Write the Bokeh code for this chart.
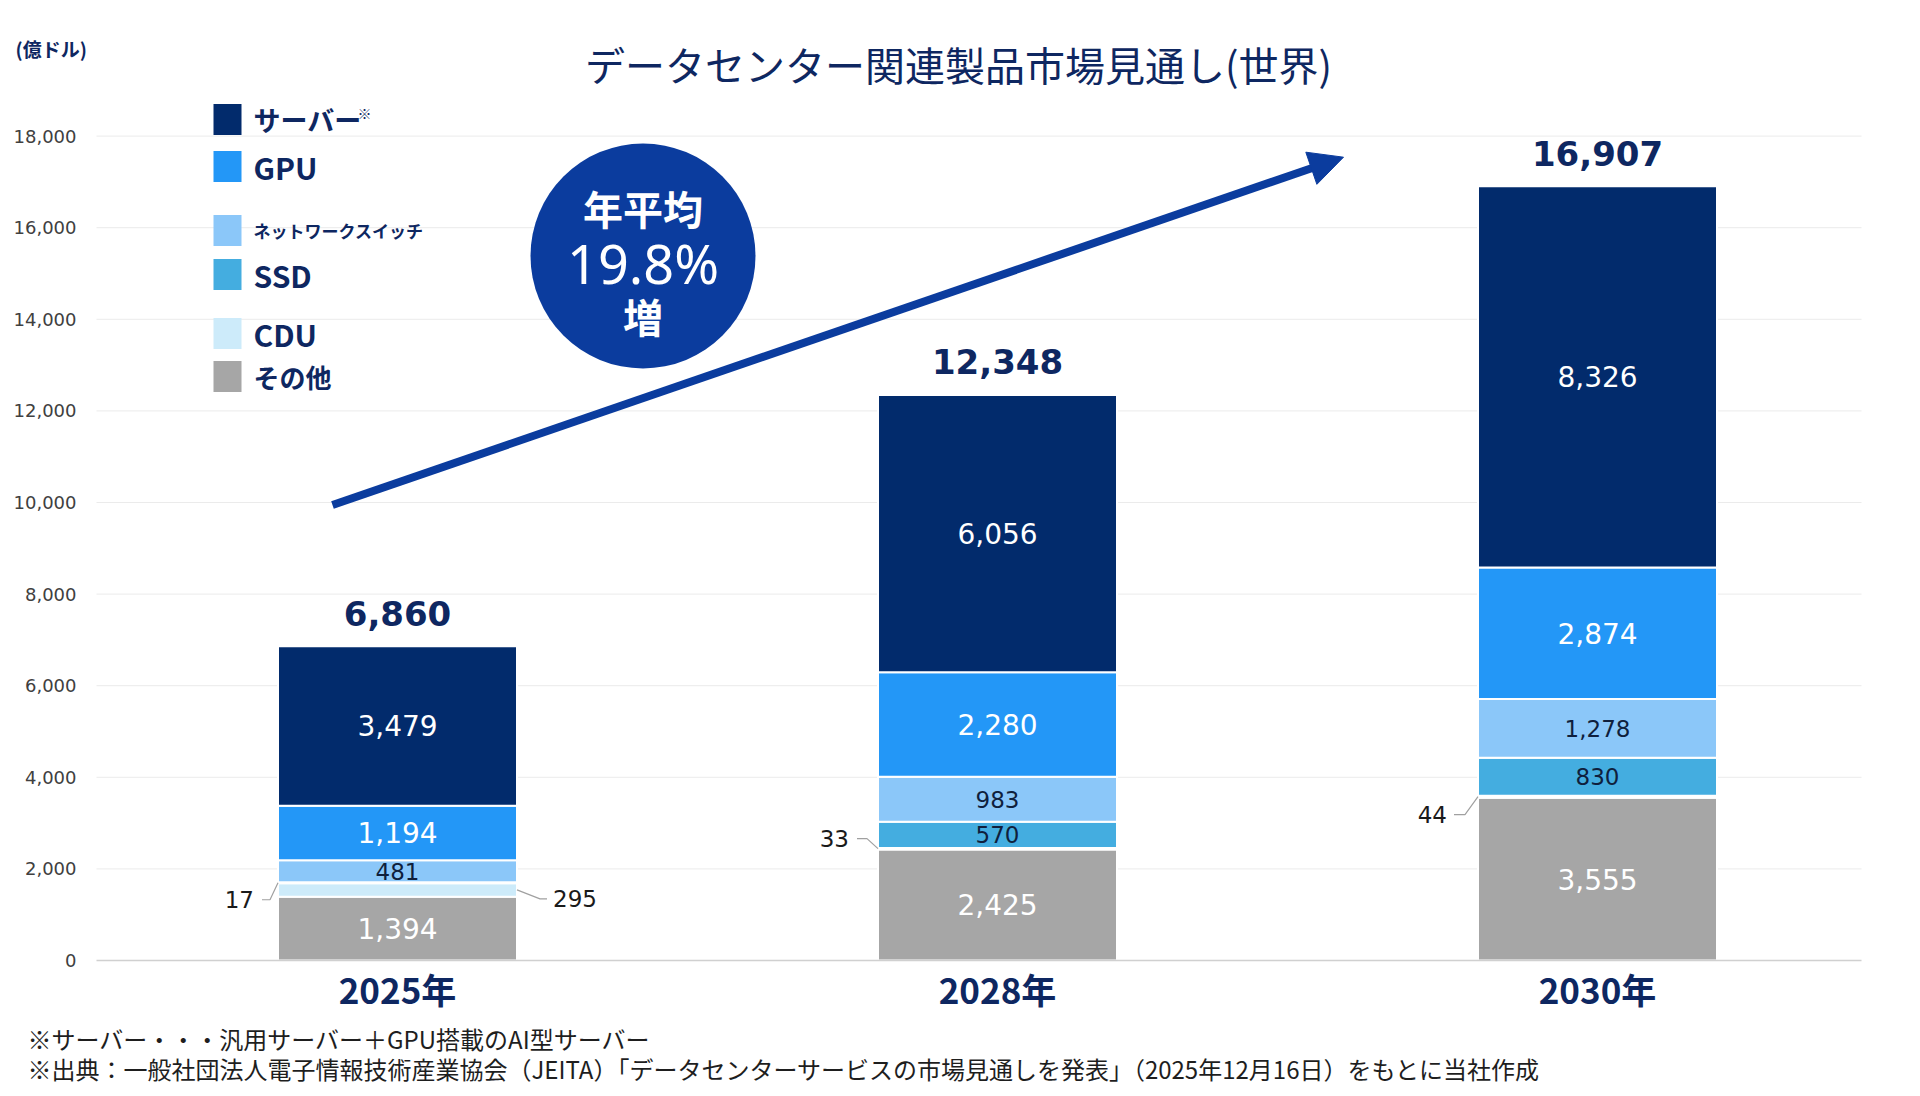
import numpy as np
from bokeh.plotting import figure
from bokeh.models import (Range1d, FixedTicker, ColumnDataSource, Label, Arrow,
                          NormalHead, NumeralTickFormatter)
from bokeh.core.properties import value
from bokeh.embed import file_html
from bokeh.resources import INLINE

# ---------------- data ----------------
years = ["2025年", "2028年", "2030年"]
series = ["その他", "CDU", "SSD", "ネットワークスイッチ", "GPU", "サーバー"]  # stacked bottom -> top
other = [1394, 2425, 3555]
cdu = [295, 33, 44]
ssd = [17, 570, 830]
switch = [481, 983, 1278]
gpu = [1194, 2280, 2874]
server = [3479, 6056, 8326]
totals = [6860, 12348, 16907]
y_ticks = [0, 2000, 4000, 6000, 8000, 10000, 12000, 14000, 16000, 18000]
legend_order = ["サーバー", "GPU", "ネットワークスイッチ", "SSD", "CDU", "その他"]
title_text = "データセンター関連製品市場見通し(世界)"
unit_text = "(億ドル)"
cagr_lines = ["年平均", "19.8%", "増"]
notes = ["※サーバー・・・汎用サーバー＋GPU搭載のAI型サーバー",
         "※出典：一般社団法人電子情報技術産業協会（JEITA）「データセンターサービスの市場見通しを発表」（2025年12月16日）をもとに当社作成"]

values = [other, cdu, ssd, switch, gpu, server]

# ---------------- style / layout ----------------
W, H = 1920, 1096
GL, GR, BASE = 96, 1861, 960         # grid left / right px, baseline (0) px
PX_X = 600.0                         # px per category step
X0_PX = 397.0                        # px of first category center
PX_Y = 0.0458                        # px per unit (億ドル)
xs = -X0_PX / PX_X
xe = (W - X0_PX) / PX_X
ys = -(H - BASE) / PX_Y
ye = BASE / PX_Y
BAR_W = 239 / PX_X

def px_x(px):
    return xs + px / PX_X

def px_y(py):
    return (BASE - py) / PX_Y

NAVY = "#0E2761"
BLUE = "#0B3C9E"
colors = {"サーバー": "#022B6C", "GPU": "#2397F7", "ネットワークスイッチ": "#8BC7F9",
          "SSD": "#44ADE0", "CDU": "#CDEBFA", "その他": "#A6A6A6"}
label_color = {"サーバー": "white", "GPU": "white", "その他": "white",
               "ネットワークスイッチ": "#0F1F3D", "SSD": "#0F1F3D", "CDU": "#0F1F3D"}
label_size = {"サーバー": "28px", "GPU": "28px", "その他": "28px",
              "ネットワークスイッチ": "23px", "SSD": "23px", "CDU": "23px"}
NUM_FONT = "DejaVu Sans"
JP_FONT = "Noto Sans CJK JP"
OUTSIDE_LIMIT = 300
# outside label leader styles: (series, year index) -> (side, elbow dx, dy, end dx, text dx) in px
leader_style = {("SSD", 0): (-1, 8, 17, 16, 24),
                ("CDU", 0): (1, 23, 9, 30, 36),
                ("CDU", 1): (-1, 11, -10, 21, 29),
                ("CDU", 2): (-1, 13, 18, 24, 31)}

p = figure(width=W, height=H, output_backend="svg", toolbar_location=None,
           x_range=Range1d(xs, xe), y_range=Range1d(ys, ye), min_border=0)
p.outline_line_color = None
p.background_fill_color = "white"
p.border_fill_color = "white"

# axes (fixed inside the frame)
p.yaxis.fixed_location = px_x(GL)
p.yaxis.ticker = FixedTicker(ticks=y_ticks)
p.yaxis.formatter = NumeralTickFormatter(format="0,0")
p.yaxis.axis_line_color = None
p.yaxis.major_tick_line_color = None
p.yaxis.minor_tick_line_color = None
p.yaxis.major_tick_out = 0
p.yaxis.major_tick_in = 0
p.yaxis.major_label_standoff = 20
p.yaxis.major_label_text_font = NUM_FONT
p.yaxis.major_label_text_font_size = "18px"
p.yaxis.major_label_text_color = "#404040"
p.grid.visible = False

p.xaxis.fixed_location = 0
p.xaxis.bounds = (px_x(GL), px_x(GR))
p.xaxis.ticker = FixedTicker(ticks=list(range(len(years))))
p.xaxis.major_label_overrides = {i: y for i, y in enumerate(years)}
p.xaxis.axis_line_color = "#D0D0D0"
p.xaxis.axis_line_width = 1.5
p.xaxis.major_tick_line_color = None
p.xaxis.minor_tick_line_color = None
p.xaxis.major_tick_out = 0
p.xaxis.major_tick_in = 0
p.xaxis.major_label_standoff = 2
p.xaxis.major_label_text_font = JP_FONT
p.xaxis.major_label_text_font_style = "bold"
p.xaxis.major_label_text_font_size = "35px"
p.xaxis.major_label_text_color = NAVY

# horizontal gridlines at the y ticks
grid_ticks = [t for t in y_ticks if t > 0]
p.segment(x0=[px_x(GL)] * len(grid_ticks), x1=[px_x(GR)] * len(grid_ticks),
          y0=grid_ticks, y1=grid_ticks, line_color="#EBEBEB", line_width=1, level="underlay")

# stacked bars
xi = np.arange(len(years))
arr = np.array(values, dtype=float)
tops = np.cumsum(arr, axis=0)
bottoms = tops - arr
seg = dict(x=[], bottom=[], top=[], color=[])
ins = dict(x=[], y=[], text=[], color=[], size=[])
lead_xs, lead_ys = [], []
out_lbl = dict(x=[], y=[], text=[], align=[])
for s, name in enumerate(series):
    for i in range(len(years)):
        seg["x"].append(xi[i]); seg["bottom"].append(bottoms[s, i]); seg["top"].append(tops[s, i])
        seg["color"].append(colors[name])
        mid = (bottoms[s, i] + tops[s, i]) / 2
        txt = f"{values[s][i]:,}"
        if values[s][i] >= OUTSIDE_LIMIT:
            ins["x"].append(xi[i]); ins["y"].append(mid); ins["text"].append(txt)
            ins["color"].append(label_color[name]); ins["size"].append(label_size[name])
        else:
            side, edx, dy, endx, tdx = leader_style[(name, i)]
            edge = xi[i] + side * BAR_W / 2
            ly = mid - dy / PX_Y
            lead_xs.append([edge, edge + side * edx / PX_X, edge + side * endx / PX_X])
            lead_ys.append([mid, ly, ly])
            out_lbl["x"].append(edge + side * tdx / PX_X); out_lbl["y"].append(ly)
            out_lbl["text"].append(txt); out_lbl["align"].append("right" if side < 0 else "left")

p.vbar(x="x", bottom="bottom", top="top", width=BAR_W, fill_color="color",
       line_color="white", line_width=2, source=ColumnDataSource(seg))
p.text(x="x", y="y", text="text", text_color="color", text_font_size="size",
       text_font=value(NUM_FONT), text_align="center", text_baseline="middle",
       source=ColumnDataSource(ins))
p.multi_line(xs=lead_xs, ys=lead_ys, line_color="#A0A0A0", line_width=1.2)
p.text(x="x", y="y", text="text", text_align="align", text_baseline="middle",
       text_font=value(NUM_FONT), text_font_size="23px", text_color="#1A1A1A",
       source=ColumnDataSource(out_lbl))

# totals
p.text(x=xi, y=totals, text=[f"{t:,}" for t in totals], y_offset=-33,
       text_align="center", text_baseline="alphabetic", text_font=value(NUM_FONT),
       text_font_style="bold", text_font_size="34px", text_color=NAVY)

# growth arrow (shaft + head)
tail = (332, 504.5)
tip = (1343, 156.7)
d = np.array([tip[0] - tail[0], tip[1] - tail[1]])
u = d / np.linalg.norm(d)
shaft_end = (tip[0] - 20 * u[0], tip[1] - 20 * u[1])
p.line(x=[px_x(tail[0]), px_x(shaft_end[0])], y=[px_y(tail[1]), px_y(shaft_end[1])],
       line_color=BLUE, line_width=8, line_cap="butt")
p.add_layout(Arrow(x_start=px_x(shaft_end[0]), y_start=px_y(shaft_end[1]),
                   x_end=px_x(tip[0]), y_end=px_y(tip[1]), line_alpha=0, line_width=0,
                   end=NormalHead(size=34, fill_color=BLUE, line_color=BLUE)))

# CAGR circle
p.scatter(x=[px_x(642.5)], y=[px_y(255.5)], size=225, marker="circle",
          fill_color=BLUE, line_color=None)
for txt, py, fs, fnt in zip(cagr_lines, [207.5, 262.5, 315], ["40px", "54px", "40px"],
                            [JP_FONT, "Noto Sans", JP_FONT]):
    p.add_layout(Label(x=px_x(642.5), y=px_y(py), text=txt, text_align="center",
                       text_baseline="middle", text_font=fnt, text_font_size=fs,
                       text_color="white", text_font_style="bold" if fnt == JP_FONT else "normal"))

# legend (manual, non-uniform spacing as in the reference)
leg_y = [119, 166, 230, 274, 333, 376]
leg_fs = ["27px", "30px", "17px", "30px", "30px", "26px"]
p.rect(x=[px_x(227)] * len(legend_order), y=[px_y(v) for v in leg_y], width=28, height=31,
       width_units="screen", height_units="screen",
       fill_color=[colors[n] for n in legend_order], line_color=None)
for name, ly, fs in zip(legend_order, leg_y, leg_fs):
    p.add_layout(Label(x=px_x(253), y=px_y(ly), text=name, text_align="left",
                       text_baseline="middle", text_font=JP_FONT, text_font_style="bold",
                       text_font_size=fs, text_color=NAVY))
p.add_layout(Label(x=px_x(357), y=px_y(112), text="※", text_align="left",
                   text_baseline="middle", text_font=JP_FONT, text_font_size="14px",
                   text_color=NAVY))

# title, unit, notes
p.add_layout(Label(x=px_x(958), y=px_y(63.5), text=title_text, text_align="center",
                   text_baseline="middle", text_font=JP_FONT, text_font_size="40px",
                   text_color=NAVY))
p.add_layout(Label(x=px_x(15), y=px_y(47.5), text=unit_text, text_align="left",
                   text_baseline="middle", text_font=JP_FONT, text_font_style="bold",
                   text_font_size="19px", text_color=NAVY))
for txt, py in zip(notes, [1038, 1068]):
    p.add_layout(Label(x=px_x(27), y=px_y(py), text=txt, text_align="left",
                       text_baseline="middle", text_font=JP_FONT, text_font_size="24px",
                       text_color="#1E1E1E"))

open("out.html", "w").write(file_html(p, INLINE))
